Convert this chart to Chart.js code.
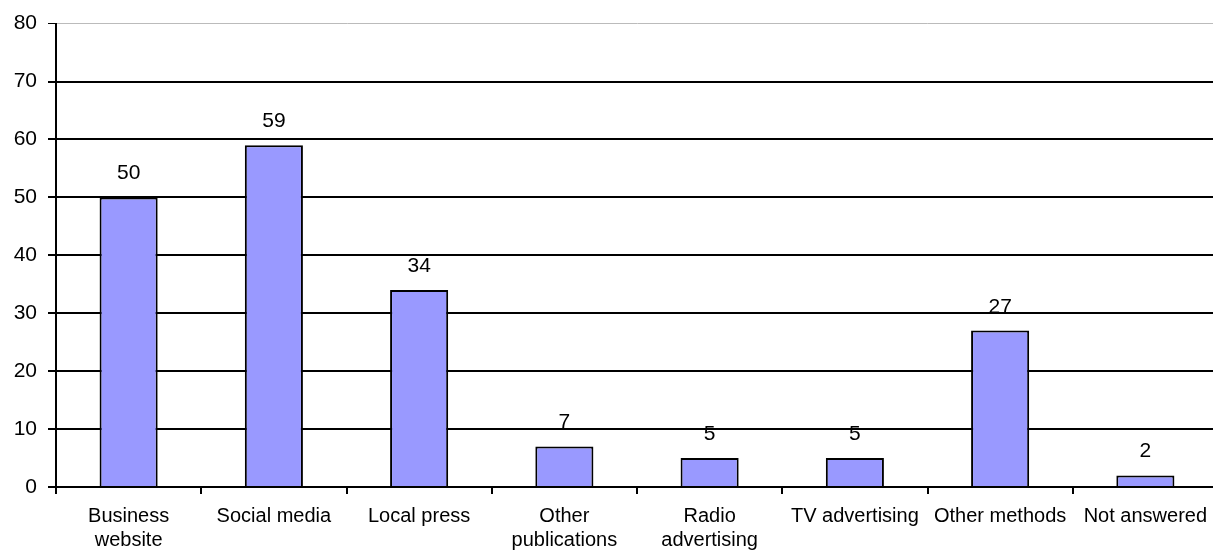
<!DOCTYPE html>
<html>
<head>
<meta charset="utf-8">
<script src="https://cdn.jsdelivr.net/npm/chart.js@4"></script>
<style>
  html, body { margin: 0; padding: 0; background: #fff; overflow: hidden; }
  #wrap { width: 1219px; height: 550px; }
</style>
</head>
<body>
<div id="wrap"><canvas id="grafico"></canvas></div>
<script>
const categorias = [
    ['Business', 'website'],
    'Social media',
    'Local press',
    ['Other', 'publications'],
    ['Radio', 'advertising'],
    'TV advertising',
    'Other methods',
    'Not answered'
];
const valores = [50, 59, 34, 7, 5, 5, 27, 2];
const eixoY = [0, 10, 20, 30, 40, 50, 60, 70, 80];

const FONTE = "'Liberation Sans', Arial, sans-serif";

// numbers above each bar
const rotulosValores = {
    id: 'rotulosValores',
    afterDatasetsDraw(chart) {
        const ctx = chart.ctx;
        const meta = chart.getDatasetMeta(0);
        ctx.save();
        ctx.font = "21px " + FONTE;
        ctx.fillStyle = '#000';
        ctx.textAlign = 'center';
        ctx.textBaseline = 'alphabetic';
        meta.data.forEach((bar, i) => {
            ctx.fillText(String(valores[i]), bar.x, bar.y - 18);
        });
        ctx.restore();
    }
};

new Chart(document.getElementById('grafico').getContext('2d'), {
    type: 'bar',
    data: {
        labels: categorias,
        datasets: [{
            data: valores,
            backgroundColor: '#9999FF',
            borderColor: '#000',
            borderWidth: 2,
            barPercentage: 0.4,
            categoryPercentage: 1
        }]
    },
    options: {
        responsive: true,
        maintainAspectRatio: false,
        animation: false,
        devicePixelRatio: 1,
        layout: { padding: { top: 22, right: 1, left: 0, bottom: 0 } },
        plugins: {
            legend: { display: false },
            tooltip: { enabled: false }
        },
        scales: {
            x: {
                grid: {
                    offset: true,
                    drawOnChartArea: false,
                    drawTicks: true,
                    tickLength: 7,
                    color: '#000',
                    lineWidth: 2
                },
                border: { color: '#000', width: 2 },
                ticks: {
                    color: '#000',
                    font: { family: FONTE, size: 20, lineHeight: 1.22 },
                    maxRotation: 0,
                    autoSkip: false,
                    padding: 10
                },
                afterFit(scale) { scale.height = 63; }
            },
            y: {
                min: 0,
                max: 80,
                afterBuildTicks(scale) {
                    scale.ticks = eixoY.map(v => ({ value: v }));
                },
                grid: {
                    color: c => c.tick && c.tick.value === 80 ? '#bbbbbb' : '#000',
                    lineWidth: c => c.tick && c.tick.value === 80 ? 1 : 2,
                    tickColor: '#000',
                    tickLength: 8
                },
                border: { color: '#000', width: 2 },
                ticks: {
                    color: '#000',
                    font: { family: FONTE, size: 21 },
                    padding: 11
                },
                afterFit(scale) { scale.width = 56; }
            }
        }
    },
    plugins: [rotulosValores]
});
</script>
</body>
</html>
